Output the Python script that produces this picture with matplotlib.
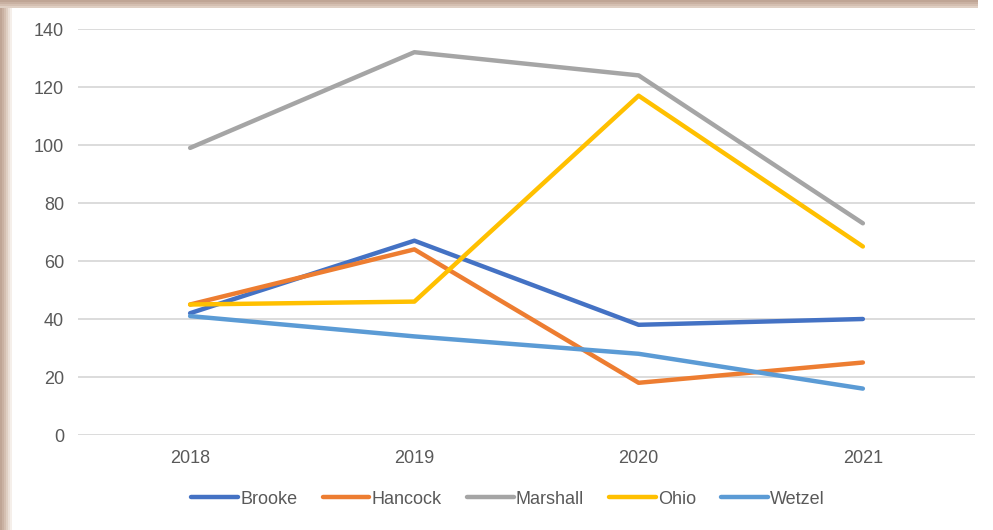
import matplotlib
matplotlib.use('Agg')
import matplotlib.pyplot as plt
from matplotlib.patches import Rectangle

years = ["2018", "2019", "2020", "2021"]
brooke = [42, 67, 38, 40]
hancock = [45, 64, 18, 25]
marshall = [99, 132, 124, 73]
ohio = [45, 46, 117, 65]
wetzel = [41, 34, 28, 16]

series = [
    ("Brooke", brooke, "#4472C4"),
    ("Hancock", hancock, "#ED7D31"),
    ("Marshall", marshall, "#A5A5A5"),
    ("Ohio", ohio, "#FFC000"),
    ("Wetzel", wetzel, "#5B9BD5"),
]

plt.rcParams['font.family'] = ['Liberation Sans Narrow', 'Liberation Sans', 'DejaVu Sans']

fig = plt.figure(figsize=(9.93, 5.30), dpi=100)
fig.patch.set_facecolor("white")

# tan shadow frame on the left and top edges
W, H = 993, 530
shades = ["#bfa595", "#c9b1a2", "#d4bfb1", "#dfcfc3", "#ebe0d8", "#f5efea"]
for i, c in enumerate(shades):
    fig.patches.append(Rectangle((i * 2 / W, 0), 2 / W, 1 - 7 / H + i / H, transform=fig.transFigure,
                                 facecolor=c, edgecolor="none", zorder=0))
for i, c in enumerate(shades[:4]):
    fig.patches.append(Rectangle((0, 1 - (i + 1) * 2 / H), 0.985, 2 / H, transform=fig.transFigure,
                                 facecolor=c, edgecolor="none", zorder=0))

ax = fig.add_axes([78 / W, 1 - 435 / H, (975 - 78) / W, (435 - 29) / H])
x = range(len(years))
for name, vals, col in series:
    ax.plot(x, vals, color=col, lw=3.2, label=name, solid_capstyle="round", zorder=3)

ax.set_xlim(-0.5, len(years) - 0.5)
ax.set_ylim(0, 140)
ax.set_yticks(range(0, 141, 20))
ax.set_xticks(list(x))
ax.set_xticklabels(years)
ax.grid(axis="y", color="#d9d9d9", lw=1.3)
ax.set_axisbelow(True)
for s in ax.spines.values():
    s.set_visible(False)
ax.tick_params(axis="both", length=0, labelsize=13, colors="#595959", pad=10)
ax.tick_params(axis="x", pad=11)

fig.legend(loc="center", bbox_to_anchor=(508 / W, 1 - 499 / H), ncol=5, frameon=False,
           fontsize=13, handlelength=2.6, handletextpad=0.1, columnspacing=1.4,
           labelcolor="#595959")

fig.savefig("out.png", dpi=100)
